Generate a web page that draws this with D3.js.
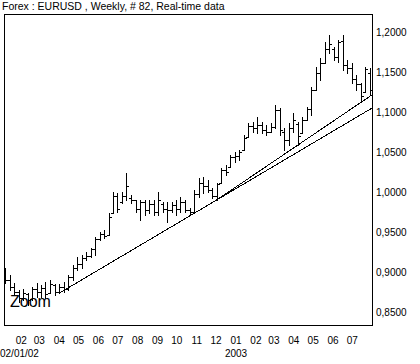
<!DOCTYPE html>
<html><head><meta charset="utf-8">
<script src="https://cdn.jsdelivr.net/npm/d3@7"></script>
<style>body{margin:0;background:#fff} svg{display:block}</style>
</head><body>
<script>
const titleText = "Forex : EURUSD , Weekly, # 82, Real-time data";
const startDate = "2002-01-02";
const openV = [0.903,0.890,0.882,0.876,0.868,0.873,0.867,0.879,0.876,0.880,
  0.874,0.885,0.876,0.882,0.879,0.894,0.906,0.910,0.918,0.921,
  0.929,0.942,0.948,0.947,0.974,0.995,0.988,0.996,0.993,0.990,
  0.980,0.988,0.978,0.986,0.976,0.986,0.980,0.978,0.984,0.980,
  0.988,0.978,0.976,0.998,1.012,1.008,1.003,0.996,1.012,1.028,
  1.032,1.044,1.046,1.053,1.069,1.083,1.080,1.084,1.078,1.076,
  1.082,1.103,1.076,1.066,1.080,1.086,1.074,1.091,1.104,1.128,
  1.150,1.162,1.180,1.180,1.170,1.190,1.160,1.156,1.142,1.135,
  1.126,1.150];
const highV = [0.906,0.897,0.887,0.878,0.879,0.874,0.882,0.887,0.884,0.888,
  0.891,0.886,0.886,0.888,0.897,0.909,0.919,0.922,0.926,0.931,
  0.944,0.951,0.953,0.974,1.001,0.999,1.001,1.024,0.997,0.991,
  0.991,0.991,0.991,0.991,1.001,0.988,0.988,0.988,0.991,0.994,
  0.991,0.981,1.003,1.018,1.019,1.016,1.006,1.012,1.031,1.034,
  1.047,1.051,1.053,1.072,1.087,1.088,1.094,1.088,1.084,1.087,
  1.109,1.106,1.081,1.087,1.099,1.088,1.094,1.107,1.132,1.157,
  1.168,1.188,1.197,1.182,1.191,1.197,1.166,1.162,1.147,1.137,
  1.157,1.155];
const lowV = [0.887,0.878,0.872,0.863,0.866,0.859,0.866,0.869,0.869,0.868,
  0.874,0.872,0.874,0.876,0.878,0.891,0.903,0.906,0.916,0.919,
  0.922,0.941,0.943,0.947,0.974,0.976,0.987,0.991,0.987,0.976,
  0.966,0.972,0.974,0.972,0.972,0.976,0.963,0.976,0.972,0.976,
  0.976,0.972,0.976,0.994,0.999,1.001,0.993,0.9905,1.012,1.022,
  1.032,1.038,1.041,1.053,1.069,1.076,1.074,1.074,1.072,1.076,
  1.081,1.072,1.053,1.059,1.076,1.059,1.074,1.091,1.097,1.128,
  1.141,1.162,1.174,1.166,1.163,1.153,1.149,1.137,1.128,1.1125,
  1.126,1.122];
const closeV = [0.890,0.882,0.876,0.868,0.874,0.866,0.879,0.876,0.880,0.873,
  0.886,0.876,0.882,0.879,0.894,0.906,0.910,0.918,0.921,0.929,
  0.942,0.948,0.946,0.970,0.996,0.980,0.996,1.008,0.990,0.980,
  0.988,0.978,0.986,0.976,0.990,0.980,0.978,0.984,0.980,0.988,
  0.978,0.976,0.998,1.012,1.008,1.003,0.996,1.010,1.028,1.026,
  1.044,1.046,1.050,1.068,1.083,1.080,1.084,1.078,1.076,1.082,
  1.103,1.078,1.066,1.080,1.090,1.070,1.090,1.104,1.128,1.150,
  1.162,1.180,1.186,1.170,1.188,1.160,1.156,1.142,1.135,1.120,
  1.154,1.128];
const yTicks = [0.85,0.90,0.95,1.00,1.05,1.10,1.15,1.20];
const monthLabels = ["02","03","04","05","06","07","08","09","10","11","12","01","02","03","04","05","06","07"];
const monthStarts = ["2002-02-01","2002-03-01","2002-04-01","2002-05-01","2002-06-01","2002-07-01","2002-08-01","2002-09-01","2002-10-01","2002-11-01","2002-12-01","2003-01-01","2003-02-01","2003-03-01","2003-04-01","2003-05-01","2003-06-01","2003-07-01"];
const firstDateLabel = "02/01/02";
const yearLabel = "2003";
const trendA = [[12,0.874],[47,0.9905]];
const trendB = [[47,0.9905],[65,1.059]];

const W=420,H=364;
const F = {l:4.5,t:14.5,r:372.5,b:325.5};
const font = "'Liberation Sans', Arial, sans-serif";
const n = openV.length;
const svg = d3.select("body").append("svg").attr("width",W).attr("height",H);
const x = d3.scaleLinear().domain([0,n-1]).range([5,369.5]);
const y = d3.scaleLinear().domain([0.85,1.20]).range([312.5,32.5]);
const px = v => Math.round(v)+0.5;
const parse = d3.utcParse("%Y-%m-%d");
const d0 = parse(startDate);
const dEnd = d3.utcDay.offset(d0, 7*(n-1));
const t = d3.scaleUtc().domain([d0,dEnd]).range([x(0),x(n-1)]);

svg.append("defs").append("clipPath").attr("id","c")
  .append("rect").attr("x",F.l).attr("y",F.t).attr("width",F.r-F.l).attr("height",F.b-F.t);

svg.append("text").attr("x",2).attr("y",10).attr("font-family",font).attr("font-size",10.5)
  .text(titleText);

svg.append("rect").attr("x",F.l).attr("y",F.t).attr("width",F.r-F.l).attr("height",F.b-F.t)
  .attr("fill","none").attr("stroke","#000").attr("shape-rendering","crispEdges");

const g = svg.append("g").attr("clip-path","url(#c)").attr("stroke","#000").attr("stroke-width",1).attr("shape-rendering","crispEdges");
d3.range(n).forEach(i=>{
  const cx = px(x(i));
  g.append("line").attr("x1",cx).attr("x2",cx).attr("y1",Math.round(y(highV[i]))).attr("y2",Math.round(y(lowV[i]))+1);
  const oy = px(y(openV[i])), cy = px(y(closeV[i]));
  g.append("line").attr("x1",cx-2.5).attr("x2",cx).attr("y1",oy).attr("y2",oy);
  g.append("line").attr("x1",cx).attr("x2",cx+2.5).attr("y1",cy).attr("y2",cy);
});

function trend(p){
  const [i0,v0]=p[0],[i1,v1]=p[1];
  const s=(v1-v0)/(i1-i0);
  const iEnd = x.invert(F.r+2);
  return [[x(i0),y(v0)],[x(iEnd),y(v0+s*(iEnd-i0))]];
}
[trendA,trendB].forEach(p=>{
  g.append("path").attr("d",d3.line()(trend(p))).attr("fill","none").attr("shape-rendering","crispEdges");
});

svg.append("text").attr("x",10).attr("y",307).attr("font-family",font).attr("font-size",16).attr("fill","#000").text("Zoom");

svg.selectAll(".yl").data(yTicks).enter().append("text")
  .attr("x",376).attr("y",d=>y(d)).attr("dy","0.35em").attr("font-family",font).attr("font-size",10)
  .text(d=>d3.format(".4f")(d).replace(".",","));

svg.selectAll(".xl").data(monthStarts).enter().append("text")
  .attr("x",d=>t(parse(d))-3).attr("y",343.5).attr("text-anchor","middle").attr("font-family",font).attr("font-size",10)
  .text((d,i)=>monthLabels[i]);
svg.append("text").attr("x",0).attr("y",357).attr("font-family",font).attr("font-size",10).text(firstDateLabel);
svg.append("text").attr("x",t(parse(monthStarts[11]))-3).attr("y",357).attr("text-anchor","middle").attr("font-family",font).attr("font-size",10).text(yearLabel);
</script>
</body></html>
